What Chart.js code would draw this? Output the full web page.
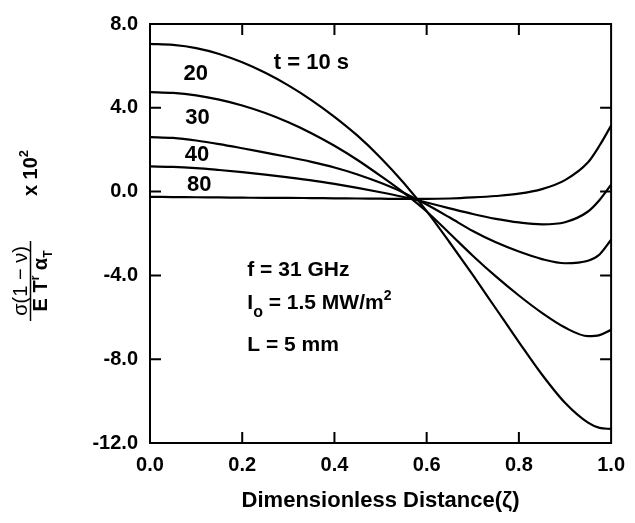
<!DOCTYPE html>
<html>
<head>
<meta charset="utf-8">
<script src="https://cdn.jsdelivr.net/npm/chart.js@4.4.1/dist/chart.umd.min.js"></script>
<style>
  html, body { margin: 0; padding: 0; background: #fff; }
  #wrap { width: 635px; height: 523px; }
</style>
</head>
<body>
<div id="wrap"><canvas id="stressChart" width="635" height="523"></canvas></div>
<script>
// dimensionless distance (zeta)
const xs = [0, 0.05, 0.1, 0.15, 0.2, 0.25, 0.3, 0.35, 0.4, 0.45, 0.5, 0.55, 0.6, 0.65, 0.7, 0.75, 0.8, 0.85, 0.9, 0.95, 0.975, 1.0];

// normalised stress x 10^2, one array per time
const t10 = [7.05, 7.0, 6.85, 6.57, 6.17, 5.67, 5.07, 4.37, 3.57, 2.67, 1.62, 0.42, -0.93, -2.43, -3.98, -5.58, -7.18, -8.73, -10.08, -11.03, -11.28, -11.33];
const t20 = [4.75, 4.71, 4.59, 4.39, 4.11, 3.75, 3.31, 2.79, 2.19, 1.51, 0.75, -0.05, -0.95, -2.0, -3.06, -4.05, -4.96, -5.79, -6.49, -6.9, -6.85, -6.6];
const t30 = [2.6, 2.56, 2.44, 2.27, 2.07, 1.86, 1.65, 1.42, 1.15, 0.82, 0.42, -0.05, -0.62, -1.24, -1.88, -2.42, -2.86, -3.22, -3.42, -3.3, -3.0, -2.3];
const t40 = [1.2, 1.18, 1.12, 1.03, 0.93, 0.81, 0.68, 0.54, 0.37, 0.18, -0.03, -0.26, -0.52, -0.8, -1.07, -1.3, -1.47, -1.56, -1.46, -0.95, -0.4, 0.33];
const t80 = [-0.25, -0.26, -0.27, -0.28, -0.29, -0.3, -0.3, -0.31, -0.32, -0.33, -0.34, -0.35, -0.35, -0.33, -0.28, -0.21, -0.1, 0.12, 0.55, 1.4, 2.2, 3.15];

const seriesList = [t10, t20, t30, t40, t80];
const seriesNames = ['t = 10 s', '20', '30', '40', '80'];
// where each time label sits, in data units
const labelX = [0.35, 0.099, 0.103, 0.102, 0.107];
const labelY = [6.12, 5.6, 3.5, 1.75, 0.3];

const xTicks = [0, 0.2, 0.4, 0.6, 0.8, 1.0];
const yTicks = [-12, -8, -4, 0, 4, 8];

const FONT = 'Liberation Sans, Arial, sans-serif';

function toPoints(ys) {
  return xs.map((x, i) => ({ x: x, y: ys[i] }));
}

// draw a run of text pieces with their own font and vertical shift
function drawRich(ctx, parts, x, y, align) {
  let total = 0;
  parts.forEach(p => { ctx.font = p.font; total += ctx.measureText(p.t).width; });
  let cx = align === 'center' ? x - total / 2 : x;
  ctx.textAlign = 'left';
  parts.forEach(p => {
    ctx.font = p.font;
    ctx.fillText(p.t, cx, y + (p.dy || 0));
    cx += ctx.measureText(p.t).width;
  });
}

const framePlugin = {
  id: 'frame',
  afterDatasetsDraw(chart) {
    const ctx = chart.ctx;
    const a = chart.chartArea;
    const sx = chart.scales.x, sy = chart.scales.y;
    ctx.save();
    ctx.strokeStyle = '#000';
    ctx.lineWidth = 2;
    ctx.strokeRect(a.left, a.top, a.right - a.left, a.bottom - a.top);
    // inward ticks on all four sides
    xTicks.slice(1, -1).forEach(v => {
      const px = sx.getPixelForValue(v);
      ctx.beginPath();
      ctx.moveTo(px, a.bottom); ctx.lineTo(px, a.bottom - 11);
      ctx.moveTo(px, a.top); ctx.lineTo(px, a.top + 11);
      ctx.stroke();
    });
    yTicks.slice(1, -1).forEach(v => {
      const py = sy.getPixelForValue(v);
      ctx.beginPath();
      ctx.moveTo(a.left, py); ctx.lineTo(a.left + 11, py);
      ctx.moveTo(a.right, py); ctx.lineTo(a.right - 11, py);
      ctx.stroke();
    });
    ctx.restore();
  },
  afterDraw(chart) {
    const ctx = chart.ctx;
    const sx = chart.scales.x, sy = chart.scales.y;
    ctx.save();
    ctx.fillStyle = '#000';
    ctx.textBaseline = 'middle';

    // curve labels
    seriesNames.forEach((name, i) => {
      ctx.font = 'bold 22px ' + FONT;
      ctx.textAlign = 'center';
      ctx.fillText(name, sx.getPixelForValue(labelX[i]), sy.getPixelForValue(labelY[i]));
    });

    // parameters block
    const left = sx.getPixelForValue(0.211);
    const big = 'bold 21px ' + FONT;
    ctx.textBaseline = 'alphabetic';
    drawRich(ctx, [{ t: 'f = 31 GHz', font: big }], left, sy.getPixelForValue(-3.69) + 7, 'left');
    drawRich(ctx, [
      { t: 'I', font: big },
      { t: 'o', font: 'bold 16px ' + FONT, dy: 8 },
      { t: ' = 1.5 MW/m', font: big },
      { t: '2', font: 'bold 14px ' + FONT, dy: -9 }
    ], left, sy.getPixelForValue(-5.29) + 7, 'left');
    drawRich(ctx, [{ t: 'L = 5 mm', font: big }], left, sy.getPixelForValue(-7.26) + 7, 'left');

    // y axis title, rotated
    ctx.save();
    ctx.translate(37, 173);
    ctx.rotate(-Math.PI / 2);
    drawRich(ctx, [
      { t: 'x 10', font: 'bold 20px ' + FONT },
      { t: '2', font: 'bold 13px ' + FONT, dy: -9 }
    ], 0, 0, 'center');
    ctx.restore();

    ctx.save();
    ctx.translate(29.5, 281);
    ctx.rotate(-Math.PI / 2);
    drawRich(ctx, [{ t: 'σ(1 − ν)', font: '20px ' + FONT }], 0, -3, 'center');
    ctx.lineWidth = 1.5;
    ctx.beginPath();
    ctx.moveTo(-40, 1); ctx.lineTo(40, 1);
    ctx.stroke();
    drawRich(ctx, [
      { t: 'E T', font: 'bold 20px ' + FONT },
      { t: 'r', font: 'bold 12px ' + FONT, dy: -8 },
      { t: ' α', font: 'bold 20px ' + FONT },
      { t: 'T', font: 'bold 12px ' + FONT, dy: 5 }
    ], 0, 17, 'center');
    ctx.restore();

    ctx.restore();
  }
};

const ctx = document.getElementById('stressChart').getContext('2d');
new Chart(ctx, {
  type: 'line',
  data: {
    datasets: seriesList.map((ys, i) => ({
      label: seriesNames[i],
      data: toPoints(ys),
      borderColor: '#000',
      borderWidth: 2.2,
      pointRadius: 0,
      fill: false,
      cubicInterpolationMode: 'monotone'
    }))
  },
  options: {
    responsive: false,
    animation: false,
    layout: { padding: { top: 17, right: 13, left: 0, bottom: 0 } },
    plugins: { legend: { display: false }, tooltip: { enabled: false } },
    scales: {
      x: {
        type: 'linear',
        min: 0,
        max: 1,
        afterFit(scale) { scale.height = 80; },
        afterBuildTicks(scale) { scale.ticks = xTicks.map(v => ({ value: v })); },
        grid: { display: false, drawTicks: false },
        border: { display: false },
        ticks: {
          color: '#000',
          padding: 10,
          maxRotation: 0,
          font: { family: FONT, size: 20, weight: 'bold' },
          callback: v => v.toFixed(1)
        },
        title: {
          display: true,
          text: 'Dimensionless Distance(ζ)',
          color: '#000',
          font: { family: FONT, size: 22, weight: 'bold' },
          padding: { top: 0, bottom: 9 }
        }
      },
      y: {
        min: -12,
        max: 8,
        afterFit(scale) { scale.width = 150; },
        afterBuildTicks(scale) { scale.ticks = yTicks.map(v => ({ value: v })); },
        grid: { display: false, drawTicks: false },
        border: { display: false },
        ticks: {
          color: '#000',
          padding: 12,
          font: { family: FONT, size: 20, weight: 'bold' },
          callback: v => v.toFixed(1)
        }
      }
    }
  },
  plugins: [framePlugin]
});
</script>
</body>
</html>
